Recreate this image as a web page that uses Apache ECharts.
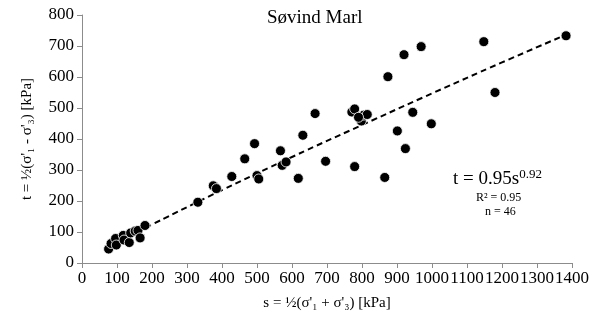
<!DOCTYPE html>
<html>
<head>
<meta charset="utf-8">
<script src="https://cdn.jsdelivr.net/npm/echarts@6/dist/echarts.min.js"></script>
<style>
  html, body { margin: 0; padding: 0; background: #fff; }
  #chart { width: 607px; height: 322px; }
</style>
</head>
<body>
<div id="chart"></div>
<script>
// s values [kPa]
var sData = [76, 83, 96, 98, 118, 120, 135, 139, 152, 160, 166, 180,
  331, 375, 384, 428, 465, 493, 500, 505, 567, 572, 583, 618, 631, 666,
  696, 771, 779, 779, 795, 798, 805, 815, 865, 874, 901, 920, 924, 945,
  969, 998, 1148, 1180, 1383, 790];
// t values [kPa]
var tData = [45, 63, 79, 58, 89, 74, 66, 97, 103, 105, 81, 121,
  196, 249, 240, 279, 336, 385, 282, 271, 362, 315, 326, 273, 412, 482,
  328, 487, 497, 311, 462, 458, 477, 479, 276, 601, 426, 672, 369, 486,
  698, 449, 714, 550, 733, 470];
// trend line points
var trendS = [80, 200, 400, 600, 800, 1000, 1200, 1380];
var trendT = [54, 124, 235, 342, 445, 547, 647, 735];
var xTicks = [0, 1400, 100];
var yTicks = [0, 800, 100];

var points = sData.map(function (s, i) { return [s, tData[i]]; });
var trend = trendS.map(function (s, i) { return [s, trendT[i]]; });

var axisGray = '#8c8c8c';
var serif = '"Liberation Serif", "DejaVu Serif", serif';

var chart = echarts.init(document.getElementById('chart'));
var option = {
  animation: false,
  backgroundColor: '#fff',
  textStyle: { fontFamily: serif, color: '#000' },
  grid: { left: 82, right: 35, top: 15, bottom: 59 },
  title: {
    text: 'Søvind Marl',
    left: 262, top: 4,
    textStyle: { fontFamily: serif, fontSize: 19, fontWeight: 'normal', color: '#000' }
  },
  xAxis: {
    type: 'value',
    min: xTicks[0], max: xTicks[1], interval: xTicks[2],
    name: "s = ½(σ'₁ + σ'₃) [kPa]",
    nameLocation: 'middle', nameGap: 33,
    nameTextStyle: { fontFamily: serif, fontSize: 15, color: '#000' },
    axisLine: { lineStyle: { color: axisGray, width: 1 } },
    axisTick: { show: true, length: 5, lineStyle: { color: axisGray } },
    axisLabel: {
      fontFamily: serif, fontSize: 17, color: '#000', margin: 7,
      formatter: function (v) { return String(v); }
    },
    splitLine: { show: false }
  },
  yAxis: {
    type: 'value',
    min: yTicks[0], max: yTicks[1], interval: yTicks[2],
    name: "t = ½(σ'₁ - σ'₃) [kPa]",
    nameLocation: 'middle', nameGap: 47, nameRotate: 90,
    nameTextStyle: { fontFamily: serif, fontSize: 15, color: '#000' },
    axisLine: { show: true, lineStyle: { color: axisGray, width: 1 } },
    axisTick: { show: true, length: 5, lineStyle: { color: axisGray } },
    axisLabel: { fontFamily: serif, fontSize: 17, color: '#000', margin: 8 },
    splitLine: { show: false }
  },
  graphic: [{
    type: 'text',
    left: 453, top: 168,
    style: {
      text: 't = 0.95s{sup|0.92}',
      font: '19px ' + serif,
      fill: '#000',
      rich: {
        sup: { fontSize: 13, fontFamily: serif, fill: '#000', padding: [0, 0, 10, 0] }
      }
    }
  }, {
    type: 'text',
    left: 476, top: 192,
    style: { text: 'R² = 0.95', font: '12px ' + serif, fill: '#000' }
  }, {
    type: 'text',
    left: 485, top: 206,
    style: { text: 'n = 46', font: '12px ' + serif, fill: '#000' }
  }],
  series: [{
    type: 'line',
    data: trend,
    smooth: true,
    showSymbol: false,
    lineStyle: { color: '#000', width: 2, type: [6, 4] },
    z: 1
  }, {
    type: 'scatter',
    data: points,
    symbolSize: 10,
    itemStyle: { color: '#000', borderColor: '#fff', borderWidth: 0.8, opacity: 1 },
    z: 2
  }]
};
chart.setOption(option);
</script>
</body>
</html>
